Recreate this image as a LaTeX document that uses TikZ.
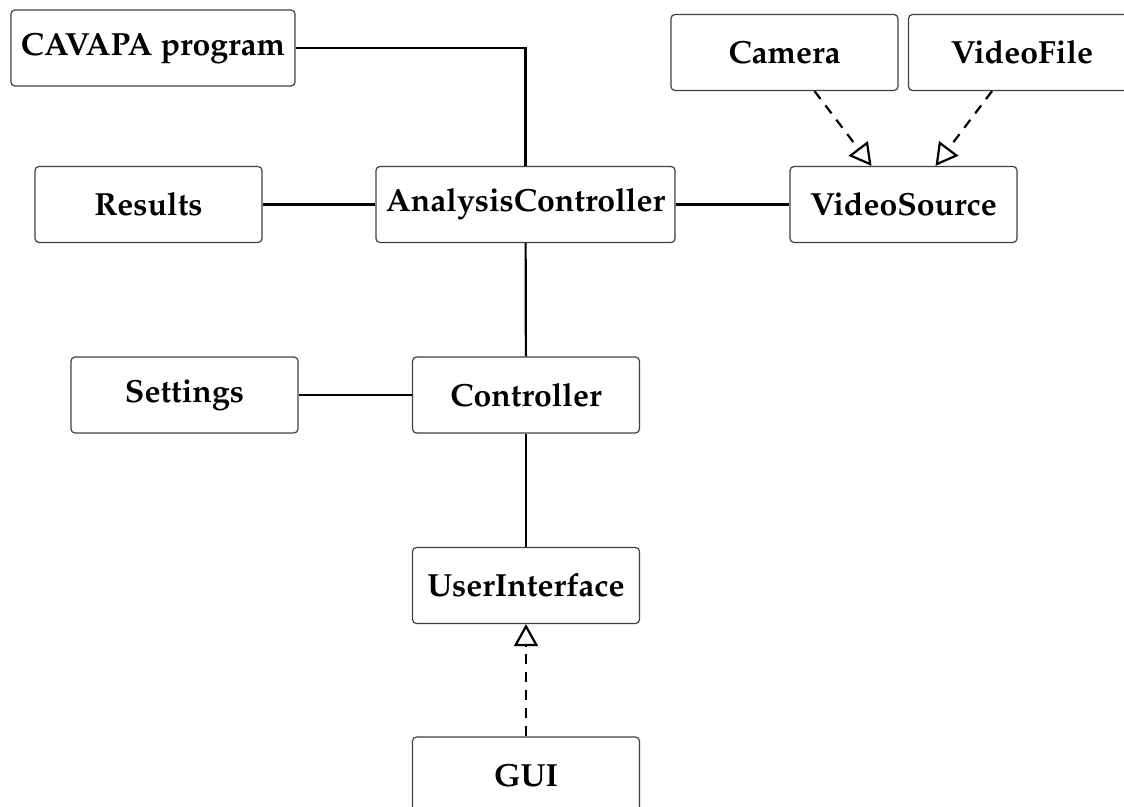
\documentclass[tikz,border=0pt]{standalone}
\usepackage[T1]{fontenc}
\usepackage{mathpazo}
\usetikzlibrary{arrows.meta}
\usetikzlibrary{positioning}

\begin{document}
\begin{tikzpicture}[x=0.5pt,y=-0.5pt]
  \tikzset{box/.style={draw=black!75, line width=0.6pt, rounded corners=2pt, minimum width=113.5pt, minimum height=38pt, inner xsep=5pt, font=\fontsize{16}{19}\selectfont\bfseries}}
  \tikzset{line/.style={draw, line width=1.1pt}}
  \tikzset{line2/.style={draw, line width=1.1pt, dash pattern=on 5pt off 4pt, -{Triangle[open, length=11pt, width=12pt]}}}

  \useasboundingbox (0,0) rectangle (1124,807);

  \node[box] (cavapa) at (153,48) {CAVAPA program};
  \node[box] (camera) at (784.5,52.5) {Camera};
  \node[box] (videofile) at (1022,52.5) {VideoFile};

  \node[box] (results) at (148.5,204.5) {Results};
  \node[box] (analysis) at (525.5,204.5) {AnalysisController};
  \node[box] (videosource) at (903.5,204.5) {VideoSource};

  \node[box] (settings) at (184.5,395) {Settings};
  \node[box] (controller) at (526,395) {Controller};

  \node[box] (ui) at (526,585.5) {UserInterface};
  \node[box] (gui) at (526,775) {GUI};

  \path[line] (cavapa) -| (analysis);
  \path[line] (results) -- (analysis);
  \path[line] (analysis) -- (videosource);
  \path[line] (analysis) -- (controller);
  \path[line] (settings) -- (controller);
  \path[line] (controller) -- (ui);

  \path[line2] ([xshift=15pt]camera.south) -- ([xshift=-16pt]videosource.north);
  \path[line2] ([xshift=-15pt]videofile.south) -- ([xshift=16pt]videosource.north);
  \path[line2] (gui) -- (ui);

\end{tikzpicture}
\end{document}
